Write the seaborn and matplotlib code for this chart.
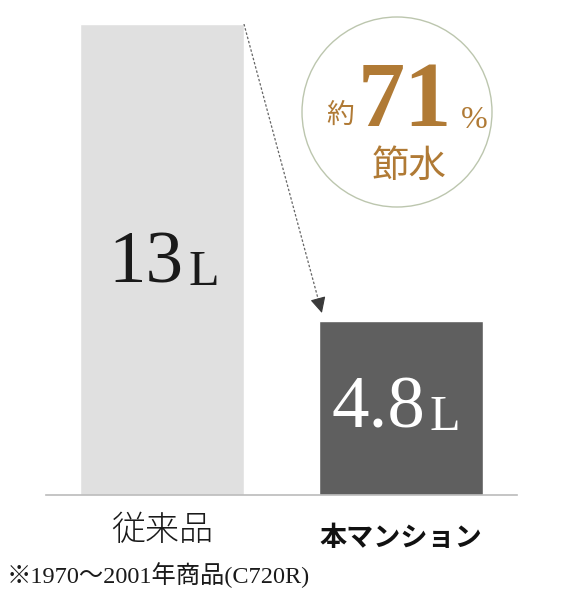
import matplotlib
matplotlib.use("Agg")
import matplotlib.pyplot as plt
import seaborn as sns
import pandas as pd
from matplotlib.patches import Circle

categories = ["従来品", "本マンション"]
values = [13, 4.8]
value_labels = ["13", "4.8"]
unit = "L"
note = "※1970～2001年商品(C720R)"
saving_pct = "71"

sns.set_theme(style="white")
plt.rcParams['font.family'] = ['Noto Sans CJK JP', 'DejaVu Sans']

df = pd.DataFrame({"cat": categories, "val": values})

fig = plt.figure(figsize=(5.72, 5.92), dpi=100)
W, H = 572, 592
ax = fig.add_axes([46 / W, (H - 495) / H, 471 / W, 471 / H])

sns.barplot(data=df, x="cat", y="val", hue="cat", palette=["#E0E0E0", "#5F5F5F"],
            width=0.686, legend=False, ax=ax, saturation=1)

ax.set_xlim(-0.485, 1.485)
ax.set_ylim(0, 13)
for s in ["top", "right", "left"]:
    ax.spines[s].set_visible(False)
ax.spines["bottom"].set_color("#BBBBBB")
ax.spines["bottom"].set_linewidth(1.2)
ax.set_xticks([])
ax.set_yticks([])
ax.set_xlabel("")
ax.set_ylabel("")

serif = ['Liberation Serif', 'Noto Sans CJK JP']
# value labels
label_y = [6.35, 2.35]
label_colors = ["#1A1A1A", "#FFFFFF"]
offsets = [(0.088, 0.109), (0.10, 0.12)]
for i, (lab, v) in enumerate(zip(value_labels, values)):
    ax.text(i + offsets[i][0], label_y[i], lab, ha="right", va="center",
            fontsize=54, family=serif, color=label_colors[i])
    ax.text(i + offsets[i][1], label_y[i] - 0.22, unit, ha="left", va="center",
            fontsize=36, family=serif, color=label_colors[i])

# category labels
ax.text(0, -0.074, categories[0], transform=ax.get_xaxis_transform(),
        ha="center", va="center", fontsize=24.5, color="#1A1A1A", fontweight="light")
ax.text(1, -0.091, categories[1], transform=ax.get_xaxis_transform(),
        ha="center", va="center", fontsize=19.5, color="#111111", fontweight="bold")
ax.text(-0.015, -0.17, note, transform=ax.get_xaxis_transform(),
        ha="center", va="center", fontsize=17.5, color="#1A1A1A", family=serif)

# dashed arrow from bar 1 to bar 2
x0, y0 = 0.343, 13
x1, y1 = 0.672, 4.95
ax.plot([x0, x1 - 0.02 * (x1 - x0)], [y0, y1 + 0.02 * (y0 - y1)],
        linestyle=(0, (2, 1.5)), color="#666666", lw=0.9)
ax.annotate("", xy=(x1, y1), xytext=(x1 - 0.06 * (x1 - x0), y1 + 0.06 * (y0 - y1)),
            arrowprops=dict(arrowstyle="-|>", color="#3A3A3A", lw=0.8, mutation_scale=24))

# circle callout
cx, cy, r = (397 - 46) / 471, (495 - 112) / 471, 95 / 471
ax.add_patch(Circle((cx, cy), r, transform=ax.transAxes, facecolor="white",
                    edgecolor="#BCC6AE", lw=1.0, clip_on=False, zorder=3))
brown = "#B07A35"
ax.text((340 - 46) / 471, (495 - 115) / 471, "約", transform=ax.transAxes,
        ha="center", va="center", fontsize=20, color=brown, zorder=4)
ax.text((405 - 46) / 471, (495 - 104) / 471, saving_pct, transform=ax.transAxes,
        ha="center", va="center", fontsize=68, color=brown, family=serif,
        fontweight="bold", zorder=4)
ax.text((474 - 46) / 471, (495 - 121) / 471, "%", transform=ax.transAxes,
        ha="center", va="center", fontsize=23, color=brown, family=serif, zorder=4)
ax.text((409 - 46) / 471, (495 - 166) / 471, "節水", transform=ax.transAxes,
        ha="center", va="center", fontsize=27, color=brown, zorder=4)

fig.savefig("out.png", dpi=100, facecolor="white")
